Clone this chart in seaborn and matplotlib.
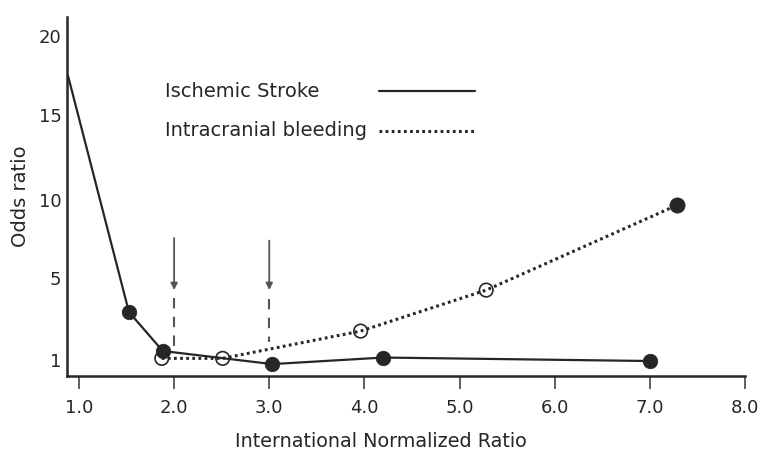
import numpy as np
import pandas as pd
import matplotlib
matplotlib.use("Agg")
import matplotlib.pyplot as plt
from matplotlib.lines import Line2D
import seaborn as sns

# ---------------- data ----------------
stroke_inr = [0.884, 1.525, 1.88, 3.03, 4.2, 7.0]
stroke_or = [17.5, 3.34, 1.44, 0.80, 1.12, 0.95]
stroke_marked = [False, True, True, True, True, True]

bleed_inr = [1.87, 2.51, 3.96, 5.28, 7.29]
bleed_or = [1.08, 1.08, 2.41, 4.41, 9.68]
bleed_filled = [False, False, False, False, True]

arrow_x = [2.0, 3.0]
arrow_top = [7.56, 7.4]
arrow_tip = [4.41, 4.41]
dash_top = [4.02, 4.0]
dash_bottom = [1.63, 1.88]

x_ticks = [1, 2, 3, 4, 5, 6, 7, 8]
x_tick_labels = ["1.0", "2.0", "3.0", "4.0", "5.0", "6.0", "7.0", "8.0"]
y_ticks = [1, 5, 10, 15, 20]
y_tick_labels = ["1", "5", "10", "15", "20"]
y_tick_pos = [16, 98, 176, 261, 340]  # relative spacing of the non-linear axis

series_names = ["Ischemic Stroke", "Intracranial bleeding"]

# ---------------- style ----------------
sns.set_theme(style="white")
plt.rcParams["font.family"] = ["DejaVu Sans"]
INK = "#262626"
DOTS = (0, (0.9, 1.1))

tv = np.array(y_ticks, float)
tp = np.array(y_tick_pos, float)


def _pw(v, a, b):
    v = np.asarray(v, float)
    out = np.interp(v, a, b)
    lo = v < a[0]
    hi = v > a[-1]
    out = np.where(lo, b[0] + (v - a[0]) * (b[1] - b[0]) / (a[1] - a[0]), out)
    out = np.where(hi, b[-1] + (v - a[-1]) * (b[-1] - b[-2]) / (a[-1] - a[-2]), out)
    return out


def fwd(v):
    return _pw(v, tv, tp)


def inv(p):
    return _pw(p, tp, tv)


W, H = 764, 459
fig = plt.figure(figsize=(W / 100, H / 100), dpi=100)
ax = fig.add_axes([67 / W, 1 - 376 / H, (745 - 67) / W, (376 - 17) / H])
ax.set_yscale("function", functions=(fwd, inv))

stroke_df = pd.DataFrame({"inr": stroke_inr, "or": stroke_or, "m": stroke_marked})
bleed_df = pd.DataFrame({"inr": bleed_inr, "or": bleed_or, "f": bleed_filled})

sns.lineplot(data=stroke_df, x="inr", y="or", sort=False, estimator=None,
             color=INK, linewidth=1.6, ax=ax, zorder=3)
sns.lineplot(data=bleed_df, x="inr", y="or", sort=False, estimator=None,
             color=INK, linewidth=2.2, linestyle=DOTS, ax=ax, zorder=3)

sm = stroke_df[stroke_df["m"]]
sns.scatterplot(data=sm, x="inr", y="or", s=110, color=INK, edgecolor=INK,
                linewidth=0.5, ax=ax, zorder=4)
bo = bleed_df[~bleed_df["f"]]
sns.scatterplot(data=bo, x="inr", y="or", s=95, facecolors="none",
                edgecolor=INK, linewidth=1.2, ax=ax, zorder=4)
bf = bleed_df[bleed_df["f"]]
sns.scatterplot(data=bf, x="inr", y="or", s=120, color=INK, edgecolor=INK,
                linewidth=0.5, ax=ax, zorder=4)

# arrows marking the therapeutic range
for xa, yt, ytip, d0, d1 in zip(arrow_x, arrow_top, arrow_tip, dash_top, dash_bottom):
    ax.annotate("", xy=(xa, ytip), xytext=(xa, yt),
                arrowprops=dict(arrowstyle="-|>", color="#555555", lw=1.3,
                                mutation_scale=10, shrinkA=0, shrinkB=0))
    ax.plot([xa, xa], [d0, d1], color="#555555", lw=1.5,
            linestyle=(0, (5, 4)), zorder=2)

ax.set_xlim(0.874, 8.0)
ax.set_ylim(inv(0.0), inv(359.0))
ax.set_xticks(x_ticks)
ax.set_xticklabels(x_tick_labels)
ax.set_yticks(y_ticks)
ax.set_yticklabels(y_tick_labels)
ax.yaxis.set_minor_locator(matplotlib.ticker.NullLocator())
ax.xaxis.set_minor_locator(matplotlib.ticker.NullLocator())

ax.tick_params(axis="x", which="major", direction="out", length=9, width=1.2,
               color="#444444", pad=7.5, labelsize=13, labelcolor=INK, bottom=True)
ax.tick_params(axis="y", which="major", length=0, pad=4, labelsize=13,
               labelcolor=INK, left=False)

for s in ["top", "right"]:
    ax.spines[s].set_visible(False)
for s in ["left", "bottom"]:
    ax.spines[s].set_color(INK)
    ax.spines[s].set_linewidth(1.8)

ax.set_xlabel("International Normalized Ratio", fontsize=13.8, color=INK, labelpad=8)
ax.xaxis.set_label_coords((381 - 67) / (745 - 67), -0.155)
ax.set_ylabel("Odds ratio", fontsize=14, color=INK, labelpad=6)
ax.grid(False)

# legend (labels left-aligned, line samples to their right)
leg_text_y = [97, 136]
leg_line_y = [91, 131]
leg_styles = ["-", DOTS]
leg_widths = [1.6, 2.2]
for name, ty, ly, ls, lw in zip(series_names, leg_text_y, leg_line_y, leg_styles, leg_widths):
    fig.text(165 / W, 1 - ty / H, name, ha="left", va="baseline",
             fontsize=14, color=INK)
    fig.add_artist(Line2D([379 / W, 475 / W], [1 - ly / H, 1 - ly / H],
                          transform=fig.transFigure, color=INK, lw=lw,
                          linestyle=ls))

fig.savefig("out.png", dpi=100, facecolor="white")
